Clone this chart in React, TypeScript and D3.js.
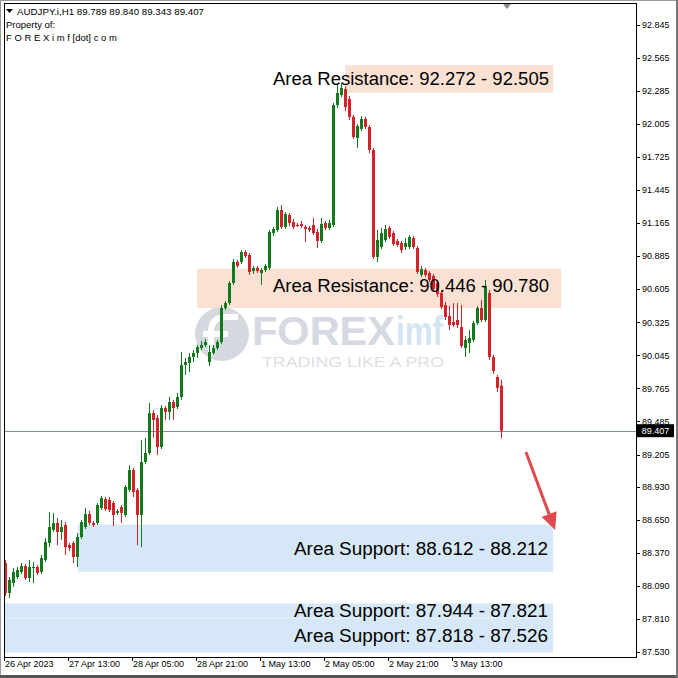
import React, { useEffect } from 'react';
import * as d3 from 'd3';

// ---- OHLC data (H1 bars) ----
const open = [
  88.286, 88.032, 88.116, 88.167, 88.210, 88.260, 88.159, 88.243, 88.252, 88.210,
  88.311, 88.455, 88.566, 88.625, 88.549, 88.608, 88.438, 88.455, 88.337, 88.506,
  88.591, 88.701, 88.625, 88.625, 88.752, 88.828, 88.820, 88.794, 88.710, 88.760,
  88.693, 88.905, 89.074, 88.905, 88.693, 89.142, 89.218, 89.557, 89.515, 89.269,
  89.599, 89.566, 89.650, 89.608, 89.693, 89.964, 89.981, 90.032, 90.066, 90.108,
  90.133, 89.989, 90.066, 90.108, 90.159, 90.447, 90.489, 90.659, 90.837, 90.837,
  90.921, 90.896, 90.760, 90.786, 90.743, 90.769, 90.786, 91.082, 91.108, 91.277,
  91.133, 91.235, 91.176, 91.150, 91.159, 91.133, 91.125, 91.150, 91.091, 91.015,
  91.167, 91.125, 91.150, 92.167, 92.252, 92.303, 92.218, 92.066, 91.888, 91.964,
  92.049, 91.981, 91.786, 90.879, 90.964, 91.023, 91.125, 91.082, 91.015, 90.998,
  90.964, 90.964, 91.040, 90.955, 90.727, 90.769, 90.743, 90.718, 90.659, 90.574,
  90.472, 90.379, 90.328, 90.345, 90.286, 90.108, 90.150, 90.176, 90.320, 90.447,
  90.345, 90.574, 90.032, 89.862, 89.789,
];
const high = [
  88.311, 88.167, 88.243, 88.252, 88.286, 88.277, 88.311, 88.294, 88.269, 88.354,
  88.498, 88.718, 88.710, 88.667, 88.650, 88.633, 88.455, 88.472, 88.540, 88.650,
  88.752, 88.727, 88.642, 88.794, 88.854, 88.845, 88.845, 88.811, 88.743, 88.777,
  88.947, 89.116, 89.091, 88.921, 89.328, 89.345, 89.642, 89.582, 89.540, 89.625,
  89.616, 89.693, 89.667, 89.727, 90.074, 90.023, 90.066, 90.091, 90.133, 90.167,
  90.184, 90.133, 90.133, 90.176, 90.472, 90.506, 90.676, 90.862, 90.854, 90.938,
  90.938, 90.913, 90.803, 90.803, 90.786, 90.820, 91.108, 91.133, 91.303, 91.320,
  91.260, 91.252, 91.201, 91.167, 91.184, 91.150, 91.142, 91.210, 91.116, 91.210,
  91.184, 91.193, 92.184, 92.337, 92.354, 92.328, 92.243, 92.082, 92.006, 92.074,
  92.066, 91.998, 91.803, 91.108, 91.125, 91.150, 91.142, 91.099, 91.032, 91.015,
  91.040, 91.066, 91.057, 90.972, 90.803, 90.786, 90.760, 90.735, 90.676, 90.591,
  90.498, 90.464, 90.489, 90.489, 90.472, 90.210, 90.260, 90.337, 90.464, 90.515,
  90.684, 90.599, 90.049, 89.879, 89.840,
];
const low = [
  88.006, 87.989, 88.082, 88.150, 88.193, 88.142, 88.125, 88.116, 88.184, 88.193,
  88.294, 88.421, 88.549, 88.438, 88.481, 88.354, 88.388, 88.286, 88.252, 88.489,
  88.574, 88.608, 88.591, 88.608, 88.735, 88.727, 88.718, 88.599, 88.693, 88.625,
  88.676, 88.888, 88.845, 88.438, 88.421, 89.125, 89.201, 89.345, 89.201, 89.252,
  89.498, 89.498, 89.498, 89.591, 89.667, 89.879, 89.904, 89.989, 90.023, 90.091,
  90.116, 89.955, 90.049, 90.091, 90.142, 90.430, 90.472, 90.642, 90.786, 90.820,
  90.871, 90.727, 90.735, 90.743, 90.642, 90.752, 90.769, 91.057, 91.091, 91.116,
  91.116, 91.142, 91.116, 91.133, 91.125, 91.006, 91.091, 91.066, 90.955, 90.998,
  91.108, 91.108, 91.133, 92.142, 92.235, 92.116, 92.040, 91.879, 91.803, 91.947,
  91.964, 91.760, 90.862, 90.837, 90.947, 91.006, 91.032, 90.972, 90.964, 90.913,
  90.938, 90.947, 90.947, 90.735, 90.710, 90.710, 90.667, 90.582, 90.540, 90.438,
  90.345, 90.260, 90.286, 90.277, 90.108, 90.032, 90.066, 90.159, 90.303, 90.328,
  90.328, 90.006, 89.887, 89.735, 89.343,
];
const close = [
  88.032, 88.142, 88.210, 88.227, 88.260, 88.159, 88.252, 88.252, 88.201, 88.328,
  88.464, 88.591, 88.625, 88.549, 88.591, 88.421, 88.413, 88.337, 88.506, 88.633,
  88.701, 88.625, 88.608, 88.777, 88.837, 88.743, 88.735, 88.693, 88.727, 88.710,
  88.930, 89.074, 88.888, 88.693, 89.142, 89.218, 89.557, 89.498, 89.269, 89.599,
  89.566, 89.650, 89.599, 89.693, 89.964, 89.989, 90.032, 90.066, 90.116, 90.133,
  90.159, 90.074, 90.108, 90.159, 90.447, 90.489, 90.659, 90.837, 90.803, 90.921,
  90.888, 90.752, 90.786, 90.760, 90.769, 90.803, 91.091, 91.116, 91.277, 91.133,
  91.243, 91.167, 91.133, 91.142, 91.142, 91.116, 91.108, 91.082, 91.015, 91.159,
  91.125, 91.167, 92.167, 92.269, 92.311, 92.150, 92.066, 91.896, 91.989, 92.049,
  91.981, 91.786, 90.879, 91.023, 91.082, 91.116, 91.049, 90.989, 90.981, 90.938,
  90.998, 91.049, 90.964, 90.752, 90.777, 90.727, 90.684, 90.608, 90.566, 90.455,
  90.371, 90.303, 90.303, 90.303, 90.125, 90.176, 90.193, 90.320, 90.447, 90.345,
  90.625, 90.032, 89.913, 89.769, 89.407,
];

// ---- axis labels ----
const timeLabels = ['26 Apr 2023', '27 Apr 13:00', '28 Apr 05:00', '28 Apr 21:00', '1 May 13:00', '2 May 05:00', '2 May 21:00', '3 May 13:00'];
const timeLabelBars = [0, 16, 32, 48, 64, 80, 96, 112];
const priceTicks = [92.845, 92.565, 92.285, 92.005, 91.725, 91.445, 91.165, 90.885, 90.605, 90.325, 90.045, 89.765, 89.485, 89.205, 88.930, 88.650, 88.370, 88.090, 87.810, 87.530];

const headerLine = 'AUDJPY.i,H1  89.789 89.840 89.343 89.407';
const headerLines2 = ['Property of:', 'F O R E X i m f [dot] c o m'];
const lastPrice = 89.407;

// ---- zones ----
const resistanceZones = [
  { low: 92.272, high: 92.505, fromBar: 84.9, toBar: 136.9, label: 'Area Resistance: 92.272 - 92.505' },
  { low: 90.446, high: 90.780, fromBar: 47.9, toBar: 138.9, label: 'Area Resistance: 90.446 - 90.780' },
];
const supportZones = [
  { low: 88.212, high: 88.612, fromBar: 18.1, toBar: 136.9, label: 'Area Support: 88.612 - 88.212' },
  { low: 87.821, high: 87.944, fromBar: -0.4, toBar: 136.9, label: 'Area Support: 87.944 - 87.821' },
  { low: 87.526, high: 87.818, fromBar: -0.4, toBar: 136.9, label: 'Area Support: 87.818 - 87.526' },
];
const arrowFrom = { bar: 130.1, price: 89.226 };
const arrowTo = { bar: 137.4, price: 88.565 };

const W = 678;
const H = 678;
const PL = 4, PR = 636, PT = 3, PB = 657;

export default function App() {
  useEffect(() => {
    document.body.style.margin = '0';
  }, []);

  const x = d3.scaleLinear().domain([0, open.length - 1]).range([5.5, 5.5 + 4 * (open.length - 1)]);
  const y = d3.scaleLinear().domain([87.53, 92.845]).range([652.2, 25]);

  const bars = open.map((o, i) => ({ o, h: high[i], l: low[i], c: close[i], i }));
  const up = '#127a1c';
  const dn = '#d42228';

  const ax = x(arrowFrom.bar), ay = y(arrowFrom.price);
  const tx = x(arrowTo.bar), ty = y(arrowTo.price);
  const len = Math.hypot(tx - ax, ty - ay);
  const ux = (tx - ax) / len, uy = (ty - ay) / len;
  const headL = 17, headW = 8;
  const bx = tx - ux * headL, by = ty - uy * headL;
  const arrowHead = `M${tx},${ty}L${bx - uy * headW},${by + ux * headW}L${bx + uy * headW},${by - ux * headW}Z`;

  const axisFont = 'Liberation Sans, Arial, sans-serif';

  return (
    <svg width={W} height={H} style={{ display: 'block', position: 'absolute', left: 0, top: 0, background: '#fff' }}>
      <rect x={0} y={0} width={W} height={H} fill="#ffffff" />
      <defs>
        <clipPath id="plot">
          <rect x={PL} y={PT} width={PR - PL} height={PB - PT} />
        </clipPath>
      </defs>

      {/* watermark */}
      <g>
        <circle cx={222} cy={334} r={27} fill="#d6d8df" />
        <path d="M211,356 L211,332 Q211,317 226,317 L238,317" stroke="#fff" strokeWidth={6} fill="none" />
        <path d="M203,334 L228,334" stroke="#fff" strokeWidth={6} />
        <text x={252} y={345} fontFamily="Liberation Sans, Arial, sans-serif" fontWeight="bold" fontSize={40} fill="#d6d9e1" textLength={143} lengthAdjust="spacingAndGlyphs">FOREX</text>
        <text x={396} y={345} fontFamily="Liberation Sans, Arial, sans-serif" fontWeight="bold" fontSize={40} fill="#d2e5f4" textLength={47} lengthAdjust="spacingAndGlyphs">imf</text>
        <text x={262} y={367} fontFamily="Liberation Sans, Arial, sans-serif" fontSize={14} fill="#dddfe4" textLength={182} lengthAdjust="spacingAndGlyphs">TRADING LIKE A PRO</text>
      </g>

      {/* zones */}
      <g clipPath="url(#plot)">
        {resistanceZones.map((z, k) => (
          <rect key={'r' + k} x={x(z.fromBar)} y={y(z.high)} width={x(z.toBar) - x(z.fromBar)} height={y(z.low) - y(z.high)} fill="#fbe1d3" />
        ))}
        {supportZones.map((z, k) => (
          <rect key={'s' + k} x={x(z.fromBar)} y={y(z.high)} width={x(z.toBar) - x(z.fromBar)} height={y(z.low) - y(z.high)} fill="#d6e8f7" />
        ))}
      </g>

      {/* last price line */}
      <line x1={PL} x2={PR} y1={Math.round(y(lastPrice)) + 0.5} y2={Math.round(y(lastPrice)) + 0.5} stroke="#7d8da0" strokeWidth={1} />

      {/* candles */}
      <g clipPath="url(#plot)">
        {bars.map((b) => {
          const cx = x(b.i);
          const col = b.c >= b.o ? up : dn;
          const top = y(Math.max(b.o, b.c));
          const bot = y(Math.min(b.o, b.c));
          return (
            <g key={b.i}>
              <line x1={cx} x2={cx} y1={y(b.h)} y2={y(b.l)} stroke={col} strokeWidth={1} />
              <rect x={cx - 1.5} y={top} width={3} height={Math.max(1, bot - top)} fill={col} />
            </g>
          );
        })}
      </g>

      {/* zone labels */}
      <g fontFamily="Liberation Sans, Arial, sans-serif" fontSize={18} fill="#000">
        {resistanceZones.map((z, k) => (
          <text key={'rl' + k} x={549} y={(y(z.high) + y(z.low)) / 2 + 6.5 - (k === 1 ? 3 : 0)} textAnchor="end" textLength={276} lengthAdjust="spacingAndGlyphs">{z.label}</text>
        ))}
        {supportZones.map((z, k) => (
          <text key={'sl' + k} x={548} y={(y(z.high) + y(z.low)) / 2 + 6.5} textAnchor="end" textLength={254} lengthAdjust="spacingAndGlyphs">{z.label}</text>
        ))}
      </g>

      {/* arrow */}
      <line x1={ax} y1={ay} x2={bx} y2={by} stroke="#e04a4f" strokeWidth={3} />
      <path d={arrowHead} fill="#e04a4f" />

      {/* frame */}
      <rect x={PL + 0.5} y={PT + 0.5} width={PR - PL} height={PB - PT} fill="none" stroke="#000" strokeWidth={1} />
      <path d="M503,4 L511,4 L507,9 Z" fill="#8a8a8a" />

      {/* price axis */}
      <g fontFamily={axisFont} fontSize={9} fill="#000">
        {priceTicks.map((p) => (
          <g key={p}>
            <line x1={PR} x2={PR + 4} y1={Math.round(y(p)) + 0.5} y2={Math.round(y(p)) + 0.5} stroke="#000" />
            <text x={642} y={y(p)} dy="0.35em">{p.toFixed(3)}</text>
          </g>
        ))}
      </g>
      <rect x={637} y={y(lastPrice) - 6.5} width={37} height={13} fill="#000" />
      <text x={655.5} y={y(lastPrice)} dy="0.35em" textAnchor="middle" fontFamily={axisFont} fontSize={9} fill="#fff">{lastPrice.toFixed(3)}</text>

      {/* time axis */}
      <g fontFamily={axisFont} fontSize={9} fill="#000">
        {timeLabelBars.map((bi, k) => {
          const tx0 = Math.round(x(bi) - 1.5) + 0.5;
          return (
            <g key={bi}>
              <line x1={tx0} x2={tx0} y1={PB} y2={PB + 4} stroke="#000" />
              <text x={tx0 + 0.5} y={667}>{timeLabels[k]}</text>
            </g>
          );
        })}
      </g>

      {/* header */}
      <g fontFamily={axisFont} fontSize={9.5} fill="#000">
        <path d="M6,9 L13,9 L9.5,13 Z" fill="#000" />
        <text x={17} y={15} textLength={187} lengthAdjust="spacingAndGlyphs">{headerLine}</text>
        <text x={6} y={28}>{headerLines2[0]}</text>
        <text x={6} y={41}>{headerLines2[1]}</text>
      </g>

      {/* window edges */}
      <rect x={0.5} y={0.5} width={W - 1} height={H - 1} fill="none" stroke="#9a9a9a" />
      <rect x={0} y={675} width={W} height={3} fill="#555" />
      <rect x={676} y={0} width={2} height={H} fill="#777" />
    </svg>
  );
}
